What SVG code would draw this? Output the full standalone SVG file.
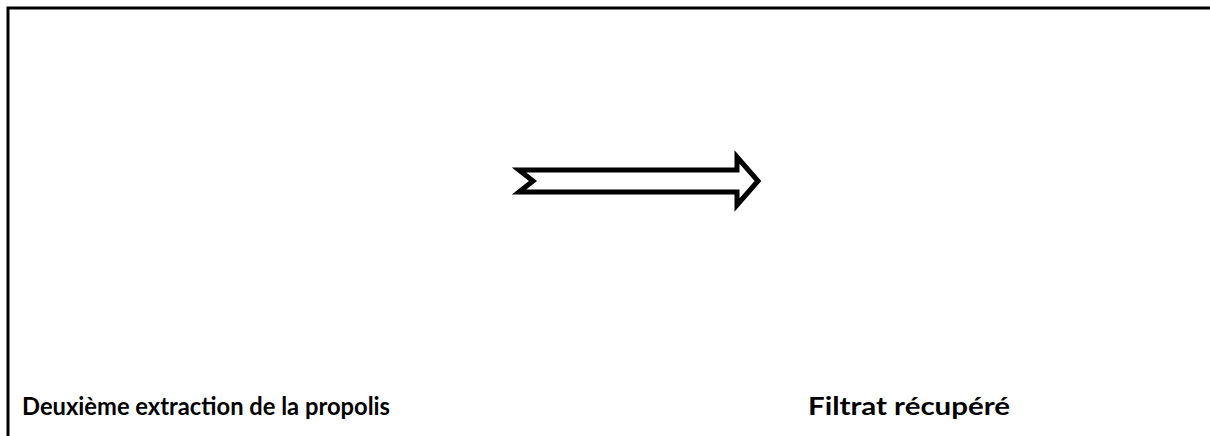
<svg xmlns="http://www.w3.org/2000/svg" width="1210" height="436" viewBox="0 0 1210 436">
<style>
.lbl{font-family:Lato,"Open Sans","Liberation Sans",sans-serif;font-weight:bold;font-size:25px;fill:#000}
</style>
<rect x="0" y="0" width="1210" height="436" fill="#fff"/>
<g id="frame"><rect x="8" y="8" width="1240" height="460" fill="none" stroke="#000" stroke-width="3"/></g>
<g id="node-deuxieme"><text class="lbl" x="22" y="415" textLength="368" lengthAdjust="spacingAndGlyphs">Deuxième extraction de la propolis</text></g>
<g id="node-filtrat"><text class="lbl" x="808" y="415" textLength="202" lengthAdjust="spacingAndGlyphs">Filtrat récupéré</text></g>
<g id="connectors">
<polygon points="519,170 737,170 737,157 758,181 737,205 737,192 519,192 533,181" fill="#fff" stroke="#000" stroke-width="5" stroke-linejoin="miter"/>
</g>
</svg>
